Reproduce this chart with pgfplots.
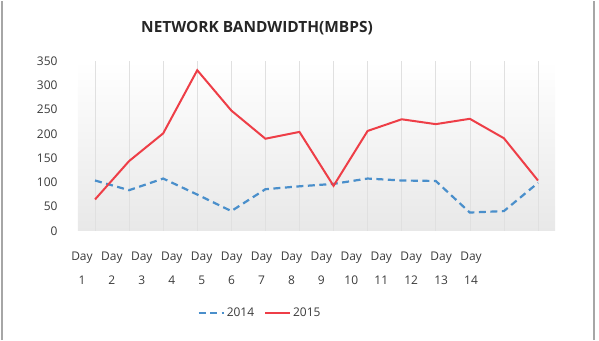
\documentclass[border=0pt]{standalone}
\usepackage{pgfplots}
\pgfplotsset{compat=1.18}
\usepackage{fontspec}
\setmainfont{Open Sans}
\definecolor{redline}{HTML}{EE3E47}
\definecolor{blueline}{HTML}{4A8FCB}
\definecolor{txt}{HTML}{3A3A3A}
\begin{document}
\begin{tikzpicture}
\path (0bp,0bp) rectangle (599bp,339bp);
\draw[gray!70, line width=2bp] (2bp,0bp) -- (2bp,339bp);
\draw[gray!70, line width=2bp] (594bp,0bp) -- (594bp,339bp);
\node[font=\fontsize{15.5}{17}\selectfont\bfseries, text=black!85] at (257bp,312bp) {NETWORK BANDWIDTH(MBPS)};
% main axis with data
\begin{axis}[
  at={(78bp,109bp)}, anchor=south west,
  scale only axis, width=477bp, height=170bp,
  xmin=0.5, xmax=14.5, ymin=0, ymax=350,
  axis line style={draw=none},
  axis background/.style={shade, top color=white, bottom color=black!9},
  xtick={1,...,14}, xticklabels={},
  xmajorgrids, grid style={black!12, line width=0.6bp},
  major tick length=0,
  ytick={0,50,...,350},
  /pgf/number format/assume math mode=true,
  yticklabel style={font=\fontsize{12}{14}\selectfont, text=txt, xshift=-17bp},
  clip=false,
  legend style={at={(0.3816,-0.482)}, anchor=center, draw=none, fill=none,
    font=\fontsize{12}{14}\selectfont, legend columns=2,
    /tikz/every even column/.append style={column sep=8bp},
    legend cell align=left},
  legend image code/.code={\draw[#1] (0bp,0bp) -- (25bp,0bp);},
]
\addplot[blueline, line width=2.2bp, dash pattern=on 7bp off 4.5bp] coordinates {
(1,104) (2,84) (3,108) (4,75) (5,41) (6,86) (7,92) (8,97) (9,108) (10,104) (11,103) (12,38) (13,41) (14,99)};
\addlegendentry{\textcolor{txt}{2014}}
\addplot[redline, line width=2bp] coordinates {
(1,65) (2,144) (3,201) (4,331) (5,248) (6,190) (7,204) (8,93) (9,206) (10,230) (11,220) (12,231) (13,191) (14,104)};
\addlegendentry{\textcolor{txt}{2015}}
\end{axis}
% axis for category labels
\begin{axis}[
  at={(67bp,109bp)}, anchor=south west,
  scale only axis, width=419bp, height=170bp,
  xmin=0.5, xmax=14.5, ymin=0, ymax=350,
  axis line style={draw=none},
  xtick={1,...,14},
  xticklabels={{Day\\1},{Day\\2},{Day\\3},{Day\\4},{Day\\5},{Day\\6},{Day\\7},{Day\\8},{Day\\9},{Day\\10},{Day\\11},{Day\\12},{Day\\13},{Day\\14}},
  xticklabel style={align=center, font=\fontsize{12}{25}\selectfont, text=txt, yshift=-17bp},
  major tick length=0, ytick=\empty,
]
\addplot[draw=none] coordinates {(1,0) (14,0)};
\end{axis}
\end{tikzpicture}
\end{document}
